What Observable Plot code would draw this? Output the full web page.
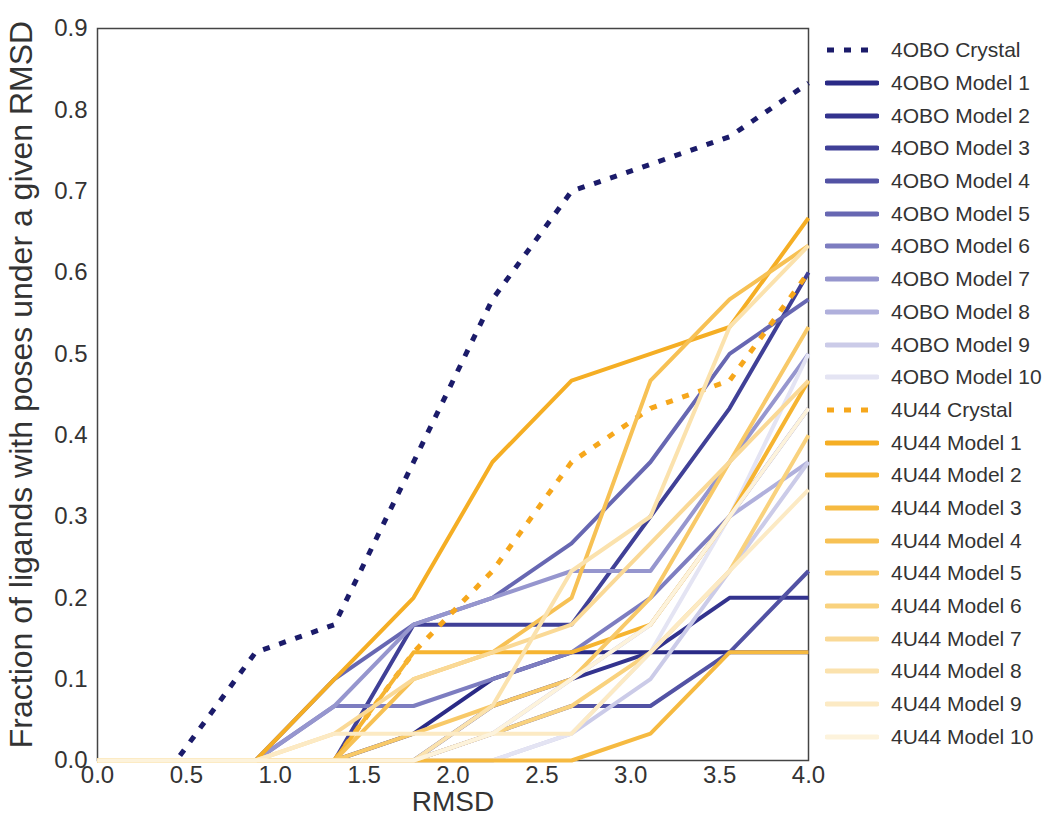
<!DOCTYPE html>
<html>
<head>
<meta charset="utf-8">
<script src="https://cdn.jsdelivr.net/npm/d3@7"></script>
<script src="https://cdn.jsdelivr.net/npm/@observablehq/plot@0.6"></script>
<style>
  html, body { margin: 0; padding: 0; background: #fff; }
  #wrap { position: relative; width: 1050px; height: 836px; font-family: "Liberation Sans", Arial, sans-serif; }
  #legend { position: absolute; left: 825px; top: 34px; }
  .row { display: flex; align-items: center; height: 32.7px; }
  .row svg { width: 54px; height: 10px; margin-right: 12px; }
  .row span { font-size: 21px; color: #333; white-space: nowrap; }
</style>
</head>
<body>
<div id="wrap"><div id="legend"></div></div>
<script>
// RMSD thresholds (x values)
const rmsd = [0, 0.444, 0.889, 1.333, 1.778, 2.222, 2.667, 3.111, 3.556, 4.0];

// Series names
const names = [
  "4OBO Crystal", "4OBO Model 1", "4OBO Model 2", "4OBO Model 3", "4OBO Model 4",
  "4OBO Model 5", "4OBO Model 6", "4OBO Model 7", "4OBO Model 8", "4OBO Model 9", "4OBO Model 10",
  "4U44 Crystal", "4U44 Model 1", "4U44 Model 2", "4U44 Model 3", "4U44 Model 4",
  "4U44 Model 5", "4U44 Model 6", "4U44 Model 7", "4U44 Model 8", "4U44 Model 9", "4U44 Model 10"
];

// Fractions of ligands with poses under a given RMSD
const obo_crystal = [0, 0, 0.133, 0.167, 0.367, 0.567, 0.700, 0.733, 0.767, 0.833];
const obo_m1  = [0, 0, 0, 0, 0.033, 0.100, 0.133, 0.133, 0.133, 0.133];
const obo_m2  = [0, 0, 0, 0, 0, 0.067, 0.100, 0.133, 0.200, 0.200];
const obo_m3  = [0, 0, 0, 0, 0.167, 0.167, 0.167, 0.300, 0.433, 0.600];
const obo_m4  = [0, 0, 0, 0, 0, 0.033, 0.067, 0.067, 0.133, 0.233];
const obo_m5  = [0, 0, 0, 0.100, 0.167, 0.200, 0.267, 0.367, 0.500, 0.567];
const obo_m6  = [0, 0, 0, 0.067, 0.067, 0.100, 0.133, 0.200, 0.300, 0.433];
const obo_m7  = [0, 0, 0, 0.067, 0.167, 0.200, 0.233, 0.233, 0.367, 0.500];
const obo_m8  = [0, 0, 0, 0, 0, 0.033, 0.100, 0.167, 0.300, 0.367];
const obo_m9  = [0, 0, 0, 0, 0, 0, 0.033, 0.100, 0.233, 0.367];
const obo_m10 = [0, 0, 0, 0, 0, 0, 0.033, 0.133, 0.300, 0.500];

const u44_crystal = [0, 0, 0, 0, 0.133, 0.233, 0.367, 0.433, 0.467, 0.600];
const u44_m1  = [0, 0, 0, 0.100, 0.200, 0.367, 0.467, 0.500, 0.533, 0.667];
const u44_m2  = [0, 0, 0, 0, 0.133, 0.133, 0.133, 0.167, 0.300, 0.467];
const u44_m3  = [0, 0, 0, 0, 0, 0, 0, 0.033, 0.133, 0.133];
const u44_m4  = [0, 0, 0, 0, 0.100, 0.133, 0.200, 0.467, 0.567, 0.633];
const u44_m5  = [0, 0, 0, 0, 0.033, 0.067, 0.100, 0.200, 0.367, 0.533];
const u44_m6  = [0, 0, 0, 0, 0, 0.033, 0.067, 0.133, 0.233, 0.400];
const u44_m7  = [0, 0, 0, 0.033, 0.100, 0.133, 0.167, 0.267, 0.367, 0.467];
const u44_m8  = [0, 0, 0, 0, 0, 0.067, 0.233, 0.300, 0.533, 0.633];
const u44_m9  = [0, 0, 0, 0.033, 0.033, 0.033, 0.033, 0.133, 0.233, 0.333];
const u44_m10 = [0, 0, 0, 0, 0, 0.033, 0.100, 0.167, 0.300, 0.433];

const seriesValues = [
  obo_crystal, obo_m1, obo_m2, obo_m3, obo_m4, obo_m5, obo_m6, obo_m7, obo_m8, obo_m9, obo_m10,
  u44_crystal, u44_m1, u44_m2, u44_m3, u44_m4, u44_m5, u44_m6, u44_m7, u44_m8, u44_m9, u44_m10
];

const xTicks = [0, 0.5, 1, 1.5, 2, 2.5, 3, 3.5, 4];
const yTicks = [0, 0.1, 0.2, 0.3, 0.4, 0.5, 0.6, 0.7, 0.8, 0.9];

// Colours (style)
const colors = [
  "#1b1b6a", "#2a2a86", "#33338e", "#404097", "#5252a4", "#6767b2", "#7d7dc0", "#9696ce", "#b0b0dc", "#cbcbe8", "#e4e4f3",
  "#f6a71c", "#f5ae24", "#f6b431", "#f6ba41", "#f7c154", "#f8c968", "#f9d27e", "#fad996", "#fbe2ad", "#fceac4", "#fdf3dc"
];
const isCrystal = names.map(n => n.includes("Crystal"));

const table = names.flatMap((name, i) => rmsd.map((x, j) => ({series: name, x, y: seriesValues[i][j]})));

const marks = [
  Plot.frame({stroke: "#444", strokeWidth: 1.5}),
  Plot.axisX({ticks: xTicks, tickSize: 0, tickPadding: 5, tickFormat: d3.format(".1f"), fontSize: 24, label: null, fill: "#333"}),
  Plot.axisY({ticks: yTicks, tickSize: 0, tickPadding: 10, tickFormat: d3.format(".1f"), fontSize: 24, label: null, fill: "#333"}),
  ...names.map((name, i) => Plot.line(table.filter(d => d.series === name), {
    x: "x", y: "y", stroke: "series",
    strokeWidth: isCrystal[i] ? 5 : 4,
    strokeDasharray: isCrystal[i] ? "7,10" : null,
    strokeLinecap: "butt", strokeLinejoin: "round"
  })),
  Plot.text(["RMSD"], {frameAnchor: "bottom", dy: 42, lineAnchor: "middle", fontSize: 28, fill: "#333"}),
  Plot.text(["Fraction of ligands with poses under a given RMSD"], {frameAnchor: "left", dx: -76, dy: -10, rotate: -90, textAnchor: "middle", lineAnchor: "middle", fontSize: 32, fill: "#333"})
];

const chart = Plot.plot({
  width: 1050,
  height: 836,
  marginLeft: 97,
  marginRight: 242,
  marginTop: 28,
  marginBottom: 76,
  style: {fontFamily: "'Liberation Sans', Arial, sans-serif", background: "#fff"},
  x: {domain: [0, 4]},
  y: {domain: [0, 0.9]},
  color: {domain: names, range: colors},
  marks
});
const wrap = document.getElementById("wrap");
wrap.insertBefore(chart, wrap.firstChild);

// Legend
const legend = d3.select("#legend");
names.forEach((name, i) => {
  const row = legend.append("div").attr("class", "row");
  const svg = row.append("svg");
  svg.append("line").attr("x1", 2).attr("x2", 52).attr("y1", 5).attr("y2", 5)
    .attr("stroke", colors[i]).attr("stroke-width", 5)
    .attr("stroke-linecap", isCrystal[i] ? "butt" : "round")
    .attr("stroke-dasharray", isCrystal[i] ? "7,10" : null);
  row.append("span").text(name);
});
</script>
</body>
</html>
